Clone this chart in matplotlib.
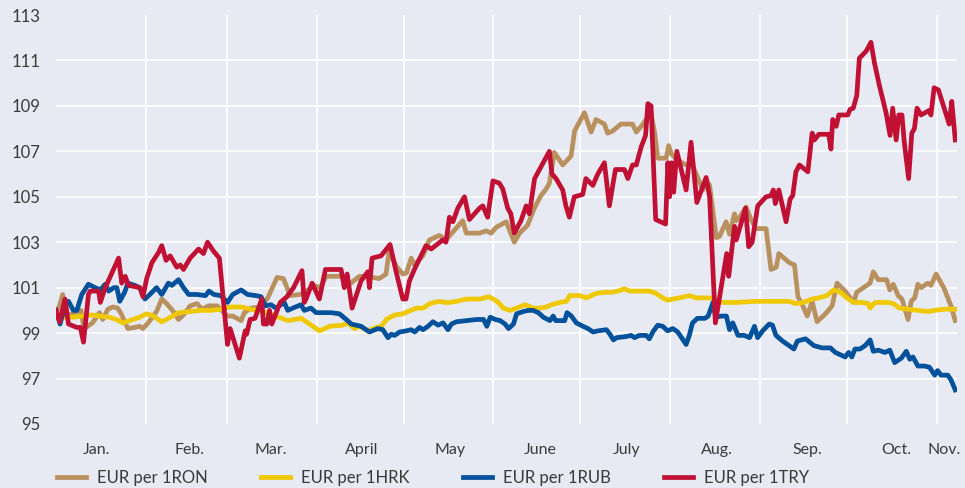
import matplotlib.pyplot as plt

# days counted from 1 January, values are index levels (start of year = 100)
ron_days = [0, 1.2, 2.3, 3.3, 6.7, 8.6, 9.7, 12.6, 15.0, 16.1, 17.9, 19.6, 21.3, 22.5, 24.8,
            27.2, 28.9, 30.0, 31.8, 34.7, 36.5, 38.2, 40.5, 42.3, 44.0, 46.3, 48.7, 50.4,
            52.7, 55.6, 56.8, 59.2, 61.0, 63.9, 65.0, 67.3, 70.5, 73.1, 76.3, 78.5, 80.8,
            84.3, 87.7, 89.0, 91.2, 93.3, 99.2, 101.3, 104.7, 107.0, 111.6, 113.9, 115.0,
            117.4, 119.7, 121.0, 122.6, 123.7, 126.6, 128.9, 132.3, 134.6, 137.0, 140.4,
            141.6, 146.2, 148.5, 150.2, 151.9, 155.4, 158.2, 160.0, 162.8, 165.1, 167.4,
            169.2, 170.3, 172.0, 174.9, 177.8, 179.0, 182.4, 184.7, 186.4, 189.3, 190.4,
            192.2, 195.0, 199.0, 200.3, 202.0, 204.3, 205.4, 206.6, 207.7, 210.6, 211.5,
            212.3, 214.6, 217.5, 219.5, 221.5, 223.3, 224.6, 225.6, 227.9, 229.0, 231.3,
            232.5, 234.2, 234.8, 236.0, 238.2, 239.9, 241.7, 245.1, 246.8, 248.6, 249.5,
            253.1, 254.9, 256.1, 257.6, 259.3, 261.0, 262.7, 265.6, 267.9, 269.6, 272.4,
            275.3, 276.4, 278.7, 281.0, 282.1, 283.8, 286.7, 287.8, 289.0, 290.7, 292.0,
            294.1, 295.2, 296.4, 297.5, 298.6, 300.9, 302.0, 303.8, 306.6, 308.9, 310.4]
ron = [99.9, 100.2, 100.7, 99.75, 99.9, 100.0, 99.2, 99.45, 99.9, 99.6, 100.05, 100.15, 100.1,
       99.85, 99.2, 99.25, 99.3, 99.2, 99.45, 99.95, 100.5, 100.3, 99.95, 99.6, 99.8, 100.2,
       100.3, 100.05, 100.2, 100.2, 100.05, 99.75, 99.75, 99.55, 99.9, 100.1, 100.15, 100.55,
       101.45, 101.4, 100.65, 100.7, 100.95, 101.1, 101.0, 101.5, 101.5, 101.15, 101.5, 101.5,
       101.4, 101.6, 102.6, 101.95, 101.6, 101.65, 102.3, 102.0, 102.4, 103.1, 103.3, 103.1,
       103.45, 103.95, 103.4, 103.4, 103.5, 103.4, 103.65, 103.9, 103.0, 103.4, 103.75, 104.5,
       105.05, 105.35, 105.6, 106.95, 106.4, 106.8, 107.9, 108.7, 107.85, 108.4, 108.2, 107.8,
       107.9, 108.2, 108.2, 107.85, 108.1, 108.5, 108.65, 107.85, 106.7, 106.7, 107.25, 106.9,
       106.6, 106.4, 106.45, 105.85, 105.3, 105.7, 105.5, 103.2, 103.25, 103.9, 103.35, 104.25,
       103.95, 104.1, 104.55, 104.0, 103.6, 103.6, 101.8, 101.9, 102.5, 102.1, 102.0, 100.6,
       100.25, 99.75, 100.4, 99.5, 99.85, 100.2, 101.2, 100.85, 100.35, 100.8, 101.0, 101.2,
       101.7, 101.35, 101.35, 100.9, 101.15, 100.65, 100.5, 99.6, 100.4, 100.55, 101.15, 101.0,
       101.2, 101.1, 101.6, 100.95, 100.2, 99.55]

hrk_days = [0, 3, 6, 9.1, 12.6, 15, 18.4, 20.8, 23.1, 25.4, 28.9, 31.2, 33.6, 36.5, 38.8,
            42.3, 46.3, 49.8, 53.3, 56.8, 60.3, 63.8, 67.3, 70.8, 72.5, 75.9, 80, 84.6, 87.5,
            91, 94.4, 99, 100.7, 103, 104.8, 107.6, 110.5, 112.3, 114, 116.9, 119.8, 121.5,
            124.4, 126.7, 129, 132.4, 134.2, 135.9, 138.2, 141.7, 146.4, 149.3, 151, 152.7,
            154.4, 156.7, 159, 161.9, 164.7, 167, 169.3, 171, 173.9, 176.2, 177.3, 180.8,
            183.1, 186.5, 189.9, 192.2, 194, 196.2, 198, 202.5, 204.8, 207.1, 209.4, 211.1,
            212.9, 215.2, 218.6, 221, 225.6, 230.2, 234.8, 241.6, 247.3, 253, 255.3, 258,
            261, 263.3, 266.1, 268.4, 270.7, 273, 275.3, 278.1, 280.4, 281, 282.7, 287.2,
            289, 291.2, 294.1, 297.5, 300.9, 303.2, 306.6, 310.4]
hrk = [99.75, 99.7, 99.7, 99.75, 99.8, 99.75, 99.7, 99.6, 99.45, 99.55, 99.7, 99.85, 99.75,
       99.5, 99.65, 99.9, 99.95, 100.0, 100.0, 100.05, 100.15, 100.15, 100.05, 99.95, 99.9,
       99.75, 99.55, 99.65, 99.4, 99.1, 99.3, 99.35, 99.45, 99.2, 99.3, 99.1, 99.25, 99.3,
       99.6, 99.8, 99.85, 99.95, 100.1, 100.1, 100.3, 100.4, 100.35, 100.35, 100.4, 100.5,
       100.5, 100.6, 100.5, 100.35, 100.1, 100.0, 100.1, 100.25, 100.1, 100.1, 100.15, 100.25,
       100.35, 100.4, 100.65, 100.65, 100.55, 100.75, 100.8, 100.8, 100.85, 100.95, 100.85,
       100.85, 100.85, 100.75, 100.55, 100.45, 100.5, 100.55, 100.65, 100.55, 100.55, 100.35,
       100.35, 100.4, 100.4, 100.4, 100.3, 100.35, 100.5, 100.55, 100.65, 100.9, 100.8, 100.55,
       100.35, 100.35, 100.3, 100.1, 100.35, 100.35, 100.3, 100.1, 100.05, 100.0, 99.95, 100.0,
       100.05, 100.05]

rub_days = [0, 1.4, 3.1, 4.3, 6.0, 7.2, 8.9, 11.2, 13.5, 15.3, 17.0, 18.2, 19.9, 21.0, 22.0,
            23.7, 24.8, 27.2, 28.9, 30.7, 32.4, 34.7, 36.5, 38.8, 40.0, 42.3, 44.0, 45.8,
            48.7, 51.6, 52.8, 54.5, 56.9, 59.2, 61.0, 63.9, 66.1, 69.0, 70.8, 72.3, 74.2,
            75.9, 78.8, 80, 81.7, 84.6, 85.7, 88, 89.8, 92.1, 95, 97.8, 100.2, 101.9, 103.6,
            105.3, 108.2, 111.1, 112.8, 114.6, 115.7, 116.9, 118.6, 120.9, 122.6, 123.8,
            125.5, 126.7, 128.4, 130.1, 131.9, 133.6, 135.3, 136.5, 138.2, 141.7, 145.3,
            147.6, 148.7, 149.9, 151.6, 153.3, 155, 156.2, 157.9, 159, 161.3, 163, 164.7,
            166.5, 168.2, 170.5, 171.6, 172.5, 175.6, 176.4, 177.9, 179.6, 181.9, 183.6,
            185.4, 187.1, 190, 191.2, 192.4, 193.5, 196.8, 198.5, 199.7, 201.4, 203.7, 204.8,
            206, 207.7, 209.4, 211.1, 212.9, 214.6, 217.5, 218.6, 219.7, 221.4, 224, 225.1,
            226.8, 227.7, 229.7, 231.4, 232.5, 233.6, 235.4, 237.6, 239.4, 241.1, 242.2,
            243.9, 246.2, 247.3, 248.5, 250.8, 253, 254.7, 255.9, 258.7, 261.6, 264.4, 267.3,
            269, 272.4, 273.6, 274.7, 275.8, 277.5, 279.3, 281, 282.1, 283.8, 286.1, 287.8,
            289.5, 291.8, 293.5, 294.7, 295.8, 297.5, 299.8, 301.5, 303.3, 304.3, 305.5,
            307.8, 308.9, 310.4]
rub = [100.0, 99.4, 100.2, 100.4, 100.0, 100.0, 100.7, 101.15, 101.0, 100.9, 101.15, 100.85,
       101.0, 101.0, 100.4, 100.8, 101.2, 101.1, 101.0, 100.5, 100.7, 101.0, 100.7, 101.2,
       101.1, 101.35, 101.0, 100.7, 100.7, 100.65, 100.85, 100.7, 100.65, 100.35, 100.7, 100.9,
       100.7, 100.65, 100.6, 100.2, 100.25, 100.1, 100.35, 100.0, 100.1, 100.25, 100.0, 100.1,
       99.9, 99.9, 99.9, 99.85, 99.6, 99.4, 99.35, 99.3, 99.05, 99.2, 99.15, 98.8, 98.95, 98.9,
       99.05, 99.1, 99.15, 99.05, 99.25, 99.15, 99.3, 99.5, 99.35, 99.45, 99.15, 99.4, 99.5,
       99.55, 99.6, 99.6, 99.3, 99.7, 99.6, 99.55, 99.4, 99.2, 99.4, 99.85, 99.95, 100.0, 100.0,
       99.9, 99.7, 99.55, 99.75, 99.55, 99.55, 99.9, 99.75, 99.45, 99.3, 99.2, 99.05, 99.1,
       99.15, 98.95, 98.7, 98.8, 98.85, 98.9, 98.8, 98.9, 98.9, 98.75, 99.05, 99.35, 99.3, 99.1,
       99.2, 99.05, 98.5, 98.9, 99.45, 99.65, 99.65, 99.75, 100.35, 99.7, 99.75, 99.75, 99.15,
       99.45, 98.9, 98.9, 98.8, 99.3, 98.8, 99.1, 99.4, 99.35, 98.9, 98.65, 98.45, 98.3, 98.65,
       98.75, 98.45, 98.35, 98.35, 98.15, 97.95, 98.15, 97.95, 98.3, 98.3, 98.45, 98.7, 98.2,
       98.25, 98.15, 98.25, 97.7, 97.9, 98.2, 97.85, 97.95, 97.55, 97.55, 97.5, 97.15, 97.35,
       97.15, 97.15, 96.95, 96.5]

try_days = [0, 1.3, 3.1, 4.3, 7.2, 8.4, 9.5, 11.2, 11.8, 14.7, 15.3, 17.0, 19.3, 21.6, 22.7,
            23.9, 25.0, 29.0, 30.0, 31.3, 33.1, 35.4, 36.5, 38.0, 39.4, 41.7, 42.9, 44.0,
            46.3, 49.2, 50.9, 52.3, 54.4, 56.4, 59.2, 60.1, 63.3, 65.3, 65.8, 67.0, 68.7,
            71.0, 71.6, 72.8, 73.7, 74.5, 77.4, 79.7, 82.0, 84.9, 85.7, 86.3, 88.4, 90.9, 93,
            98.4, 99.5, 100.5, 102.2, 105.3, 107.6, 108.2, 109.1, 112.2, 115.3, 117.4, 119.7,
            120.8, 122, 123.7, 127.7, 129.5, 133.5, 134.6, 135.8, 137, 138.7, 141, 142.7,
            146.2, 147.3, 149, 150.8, 153, 154.2, 155.9, 157, 158.2, 160.5, 162.3, 163.4,
            165.2, 166.9, 169, 170.3, 171.2, 172.6, 174.9, 176, 177.2, 178.9, 181.8, 182.9,
            185.3, 187, 189.3, 191, 193.1, 196.2, 197.4, 199, 200.3, 202, 203.5, 204.3, 205.4,
            207, 210.4, 211.2, 211.8, 212.5, 213.2, 214.3, 217.5, 219.2, 221.2, 224.4, 225.6,
            227.6, 231.5, 232.2, 234.2, 234.8, 238, 239.1, 240.3, 242.2, 245.1, 246.8, 247.6,
            248.3, 249.5, 252, 253.4, 254.3, 255.4, 256.6, 259.5, 261, 261.8, 263.3, 266.7,
            267.5, 268.1, 269.3, 270.2, 273.3, 274.1, 275.2, 276.4, 277.3, 279.6, 281.3,
            282.5, 284.2, 286.5, 287.9, 288.8, 290, 290.9, 292, 292.8, 294.3, 295.4, 296.3,
            297.2, 298.6, 301.4, 302, 303.1, 304.6, 308.3, 309.2, 310.4]
try_ = [100.0, 99.5, 100.5, 99.4, 99.25, 99.25, 98.6, 100.7, 100.85, 100.85, 100.35, 101.0,
        101.65, 102.3, 101.2, 101.5, 101.1, 101.0, 100.6, 101.4, 102.1, 102.55, 102.85, 102.2,
        102.4, 101.9, 102.0, 101.8, 102.3, 102.7, 102.5, 103.0, 102.6, 102.3, 98.5, 99.2, 97.9,
        99.1, 98.95, 99.6, 99.65, 100.5, 99.4, 99.4, 100.0, 99.4, 100.35, 100.6, 101.0, 101.75,
        100.35, 100.5, 101.2, 100.5, 101.8, 101.8, 101.0, 101.6, 100.1, 101.3, 101.7, 101.0,
        102.3, 102.4, 102.9, 101.7, 100.5, 100.5, 101.3, 101.8, 102.85, 102.7, 103.1, 103.0,
        104.1, 103.9, 104.5, 105.0, 104.0, 104.5, 104.6, 104.1, 105.7, 105.6, 105.35, 104.5,
        104.25, 103.4, 103.95, 104.6, 104.25, 105.8, 106.2, 106.7, 107.0, 106.0, 105.8, 105.3,
        104.6, 104.1, 105.0, 105.1, 105.8, 105.5, 106.0, 106.5, 104.6, 106.2, 106.2, 105.8,
        106.4, 106.4, 107.2, 107.7, 109.1, 109.0, 104.0, 103.8, 106.5, 105.0, 106.5, 105.2,
        107.0, 105.3, 107.4, 104.75, 105.85, 105.0, 99.45, 102.5, 101.5, 103.7, 103.1, 104.5,
        102.8, 103.0, 104.6, 105.0, 105.05, 105.3, 104.7, 105.3, 103.9, 104.9, 105.05, 106.1,
        106.4, 106.1, 107.8, 107.5, 107.75, 107.75, 107.1, 108.4, 108.1, 108.6, 108.6, 108.85,
        108.9, 109.45, 111.1, 111.4, 111.8, 110.9, 109.9, 108.7, 107.7, 108.9, 107.5, 108.6,
        108.6, 107.4, 105.8, 107.8, 108.0, 108.9, 108.6, 108.8, 108.6, 109.8, 109.7, 108.2,
        109.2, 107.5]

month_starts = [31, 59, 90, 120, 151, 181, 212, 243, 273, 304]
month_mid = [14, 46, 74, 105.5, 136, 167, 197, 228, 259.5, 290, 306.5]
month_labels = ['Jan.', 'Feb.', 'Mar.', 'April', 'May', 'June', 'July', 'Aug.', 'Sep.', 'Oct.', 'Nov.']
yticks = [95, 97, 99, 101, 103, 105, 107, 109, 111, 113]

bg = '#e8eaf3'
plt.rcParams['font.family'] = ['Lato', 'DejaVu Sans']

fig = plt.figure(figsize=(9.65, 4.88), dpi=100, facecolor=bg)
ax = fig.add_axes([56/965, 64/488, 901/965, 409/488], facecolor=bg)

for d in month_starts:
    ax.axvline(d, color='white', lw=1.2, zorder=1)
for v in yticks[1:-1]:
    ax.axhline(v, color='white', lw=1.2, zorder=1)

lw = 3.4
ax.plot(ron_days, ron, color='#b8915f', lw=lw, label='EUR per 1RON', zorder=2)
ax.plot(hrk_days, hrk, color='#efc800', lw=lw, label='EUR per 1HRK', zorder=3)
ax.plot(rub_days, rub, color='#00519b', lw=lw, label='EUR per 1RUB', zorder=4)
ax.plot(try_days, try_, color='#c01134', lw=lw, label='EUR per 1TRY', zorder=5)

ax.set_xlim(0, 311)
ax.set_ylim(95, 113)
ax.set_yticks(yticks)
ax.set_xticks(month_mid)
ax.set_xticklabels(month_labels)
ax.tick_params(axis='y', length=0, pad=11, labelsize=12, labelcolor='#3a3a3a')
ax.tick_params(axis='x', length=0, pad=14, labelsize=11.5, labelcolor='#3a3a3a')
for s in ax.spines.values():
    s.set_visible(False)

fig.legend(loc='center left', bbox_to_anchor=(57/965, 1 - 478/488), ncol=4, frameon=False,
           fontsize=12, handlelength=1.75, handletextpad=0.65, columnspacing=3.2,
           borderpad=0, borderaxespad=0, labelcolor='#3a3a3a')

fig.savefig('out.png', dpi=100, facecolor=bg)
